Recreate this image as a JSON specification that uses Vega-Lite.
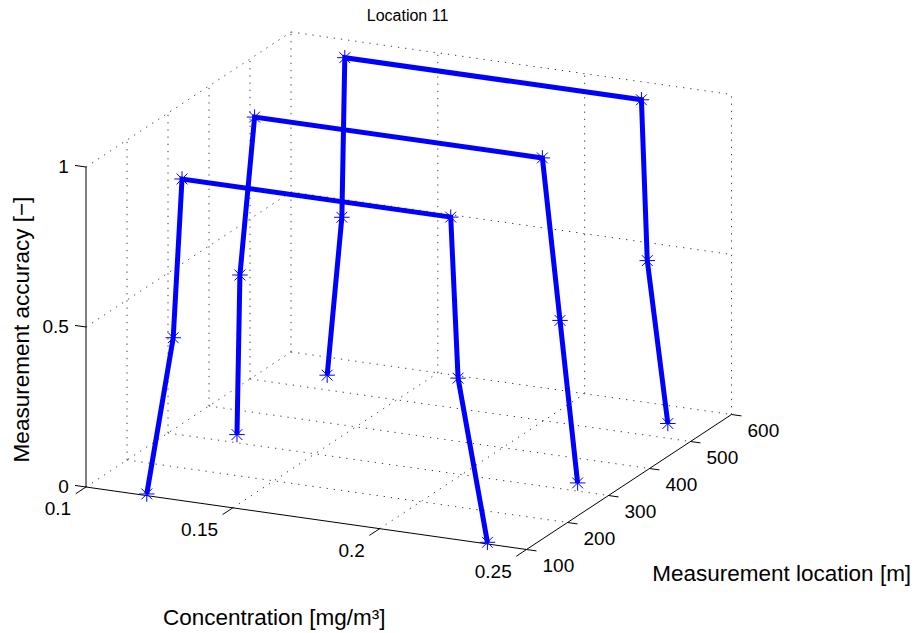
{
  "$schema": "https://vega.github.io/schema/vega-lite/v6.json",
  "width": 915,
  "height": 633,
  "autosize": "none",
  "padding": 0,
  "background": "white",
  "config": {"view": {"stroke": null}, "font": "Liberation Sans"},
  "title": {
    "text": "Location 11",
    "font": "Liberation Sans",
    "fontSize": 16,
    "fontWeight": "normal",
    "color": "black",
    "anchor": "middle",
    "frame": "group",
    "baseline": "bottom",
    "offset": -40,
    "dx": -50
  },
  "datasets": {
    "curves": [
      {"location": 545, "step": 1, "concentration": 0.120, "accuracy": 0},
      {"location": 545, "step": 2, "concentration": 0.125, "accuracy": 0.5},
      {"location": 545, "step": 3, "concentration": 0.126, "accuracy": 1},
      {"location": 545, "step": 4, "concentration": 0.227, "accuracy": 1},
      {"location": 545, "step": 5, "concentration": 0.229, "accuracy": 0.5},
      {"location": 545, "step": 6, "concentration": 0.236, "accuracy": 0},
      {"location": 325, "step": 1, "concentration": 0.120, "accuracy": 0},
      {"location": 325, "step": 2, "concentration": 0.121, "accuracy": 0.5},
      {"location": 325, "step": 3, "concentration": 0.126, "accuracy": 1},
      {"location": 325, "step": 4, "concentration": 0.224, "accuracy": 1},
      {"location": 325, "step": 5, "concentration": 0.230, "accuracy": 0.5},
      {"location": 325, "step": 6, "concentration": 0.236, "accuracy": 0},
      {"location": 105, "step": 1, "concentration": 0.120, "accuracy": 0},
      {"location": 105, "step": 2, "concentration": 0.129, "accuracy": 0.5},
      {"location": 105, "step": 3, "concentration": 0.132, "accuracy": 1},
      {"location": 105, "step": 4, "concentration": 0.2235, "accuracy": 1},
      {"location": 105, "step": 5, "concentration": 0.226, "accuracy": 0.5},
      {"location": 105, "step": 6, "concentration": 0.236, "accuracy": 0}
    ],
    "grid": [
      {"c1": 0.10, "l1": 100, "a1": 0, "c2": 0.10, "l2": 600, "a2": 0},
      {"c1": 0.15, "l1": 100, "a1": 0, "c2": 0.15, "l2": 600, "a2": 0},
      {"c1": 0.20, "l1": 100, "a1": 0, "c2": 0.20, "l2": 600, "a2": 0},
      {"c1": 0.10, "l1": 200, "a1": 0, "c2": 0.25, "l2": 200, "a2": 0},
      {"c1": 0.10, "l1": 300, "a1": 0, "c2": 0.25, "l2": 300, "a2": 0},
      {"c1": 0.10, "l1": 400, "a1": 0, "c2": 0.25, "l2": 400, "a2": 0},
      {"c1": 0.10, "l1": 500, "a1": 0, "c2": 0.25, "l2": 500, "a2": 0},
      {"c1": 0.10, "l1": 600, "a1": 0, "c2": 0.25, "l2": 600, "a2": 0},
      {"c1": 0.10, "l1": 200, "a1": 0, "c2": 0.10, "l2": 200, "a2": 1},
      {"c1": 0.10, "l1": 300, "a1": 0, "c2": 0.10, "l2": 300, "a2": 1},
      {"c1": 0.10, "l1": 400, "a1": 0, "c2": 0.10, "l2": 400, "a2": 1},
      {"c1": 0.10, "l1": 500, "a1": 0, "c2": 0.10, "l2": 500, "a2": 1},
      {"c1": 0.10, "l1": 600, "a1": 0, "c2": 0.10, "l2": 600, "a2": 1},
      {"c1": 0.10, "l1": 100, "a1": 0.5, "c2": 0.10, "l2": 600, "a2": 0.5},
      {"c1": 0.10, "l1": 100, "a1": 1, "c2": 0.10, "l2": 600, "a2": 1},
      {"c1": 0.15, "l1": 600, "a1": 0, "c2": 0.15, "l2": 600, "a2": 1},
      {"c1": 0.20, "l1": 600, "a1": 0, "c2": 0.20, "l2": 600, "a2": 1},
      {"c1": 0.25, "l1": 600, "a1": 0, "c2": 0.25, "l2": 600, "a2": 1},
      {"c1": 0.10, "l1": 600, "a1": 0.5, "c2": 0.25, "l2": 600, "a2": 0.5},
      {"c1": 0.10, "l1": 600, "a1": 1, "c2": 0.25, "l2": 600, "a2": 1}
    ],
    "frame": [
      {"c1": 0.10, "l1": 100, "a1": 0, "c2": 0.25, "l2": 100, "a2": 0},
      {"c1": 0.25, "l1": 100, "a1": 0, "c2": 0.25, "l2": 600, "a2": 0},
      {"c1": 0.10, "l1": 100, "a1": 0, "c2": 0.10, "l2": 100, "a2": 1},
      {"c1": 0.10, "l1": 100, "a1": 0, "c2": 0.10, "l2": 75, "a2": 0},
      {"c1": 0.15, "l1": 100, "a1": 0, "c2": 0.15, "l2": 75, "a2": 0},
      {"c1": 0.20, "l1": 100, "a1": 0, "c2": 0.20, "l2": 75, "a2": 0},
      {"c1": 0.25, "l1": 100, "a1": 0, "c2": 0.25, "l2": 75, "a2": 0},
      {"c1": 0.25, "l1": 100, "a1": 0, "c2": 0.2534, "l2": 100, "a2": 0},
      {"c1": 0.25, "l1": 200, "a1": 0, "c2": 0.2534, "l2": 200, "a2": 0},
      {"c1": 0.25, "l1": 300, "a1": 0, "c2": 0.2534, "l2": 300, "a2": 0},
      {"c1": 0.25, "l1": 400, "a1": 0, "c2": 0.2534, "l2": 400, "a2": 0},
      {"c1": 0.25, "l1": 500, "a1": 0, "c2": 0.2534, "l2": 500, "a2": 0},
      {"c1": 0.25, "l1": 600, "a1": 0, "c2": 0.2534, "l2": 600, "a2": 0},
      {"c1": 0.10, "l1": 100, "a1": 0, "c2": 0.09625, "l2": 100, "a2": 0},
      {"c1": 0.10, "l1": 100, "a1": 0.5, "c2": 0.09625, "l2": 100, "a2": 0.5},
      {"c1": 0.10, "l1": 100, "a1": 1, "c2": 0.09625, "l2": 100, "a2": 1}
    ],
    "ticklabels": [
      {"axis": "x", "label": "0.1", "concentration": 0.10, "location": 100, "accuracy": 0},
      {"axis": "x", "label": "0.15", "concentration": 0.15, "location": 100, "accuracy": 0},
      {"axis": "x", "label": "0.2", "concentration": 0.20, "location": 100, "accuracy": 0},
      {"axis": "x", "label": "0.25", "concentration": 0.25, "location": 100, "accuracy": 0},
      {"axis": "y", "label": "100", "concentration": 0.25, "location": 100, "accuracy": 0},
      {"axis": "y", "label": "200", "concentration": 0.25, "location": 200, "accuracy": 0},
      {"axis": "y", "label": "300", "concentration": 0.25, "location": 300, "accuracy": 0},
      {"axis": "y", "label": "400", "concentration": 0.25, "location": 400, "accuracy": 0},
      {"axis": "y", "label": "500", "concentration": 0.25, "location": 500, "accuracy": 0},
      {"axis": "y", "label": "600", "concentration": 0.25, "location": 600, "accuracy": 0},
      {"axis": "z", "label": "0", "concentration": 0.10, "location": 100, "accuracy": 0},
      {"axis": "z", "label": "0.5", "concentration": 0.10, "location": 100, "accuracy": 0.5},
      {"axis": "z", "label": "1", "concentration": 0.10, "location": 100, "accuracy": 1}
    ],
    "axistitles": [
      {"axis": "x", "text": "Concentration [mg/m³]", "concentration": 0.175, "location": 100, "accuracy": 0},
      {"axis": "y", "text": "Measurement location [m]", "concentration": 0.25, "location": 350, "accuracy": 0},
      {"axis": "z", "text": "Measurement accuracy [−]", "concentration": 0.10, "location": 100, "accuracy": 0.5}
    ]
  },
  "layer": [
    {
      "data": {"name": "grid"},
      "transform": [
        {"calculate": "440.5*(datum.c1-0.1)/0.15 + 205*(datum.l1-100)/500", "as": "px"},
        {"calculate": "-62.5*(datum.c1-0.1)/0.15 + 135*(datum.l1-100)/500 + 320*datum.a1", "as": "py"},
        {"calculate": "440.5*(datum.c2-0.1)/0.15 + 205*(datum.l2-100)/500", "as": "px2"},
        {"calculate": "-62.5*(datum.c2-0.1)/0.15 + 135*(datum.l2-100)/500 + 320*datum.a2", "as": "py2"}
      ],
      "mark": {"type": "rule", "color": "#404040", "strokeWidth": 1, "strokeDash": [1.3, 5.9]},
      "encoding": {
        "x": {"field": "px", "type": "quantitative", "scale": {"domain": [-86, 829], "nice": false, "zero": false}, "axis": null},
        "y": {"field": "py", "type": "quantitative", "scale": {"domain": [-146, 487], "nice": false, "zero": false}, "axis": null},
        "x2": {"field": "px2"},
        "y2": {"field": "py2"}
      }
    },
    {
      "data": {"name": "frame"},
      "transform": [
        {"calculate": "440.5*(datum.c1-0.1)/0.15 + 205*(datum.l1-100)/500", "as": "px"},
        {"calculate": "-62.5*(datum.c1-0.1)/0.15 + 135*(datum.l1-100)/500 + 320*datum.a1", "as": "py"},
        {"calculate": "440.5*(datum.c2-0.1)/0.15 + 205*(datum.l2-100)/500", "as": "px2"},
        {"calculate": "-62.5*(datum.c2-0.1)/0.15 + 135*(datum.l2-100)/500 + 320*datum.a2", "as": "py2"}
      ],
      "mark": {"type": "rule", "color": "black", "strokeWidth": 1},
      "encoding": {
        "x": {"field": "px", "type": "quantitative", "scale": {"domain": [-86, 829], "nice": false, "zero": false}, "axis": null},
        "y": {"field": "py", "type": "quantitative", "scale": {"domain": [-146, 487], "nice": false, "zero": false}, "axis": null},
        "x2": {"field": "px2"},
        "y2": {"field": "py2"}
      }
    },
    {
      "data": {"name": "curves"},
      "transform": [
        {"calculate": "440.5*(datum.concentration-0.1)/0.15 + 205*(datum.location-100)/500", "as": "px"},
        {"calculate": "-62.5*(datum.concentration-0.1)/0.15 + 135*(datum.location-100)/500 + 320*datum.accuracy", "as": "py"}
      ],
      "mark": {"type": "line", "color": "#0000ff", "strokeWidth": 5, "strokeJoin": "miter"},
      "encoding": {
        "x": {"field": "px", "type": "quantitative", "scale": {"domain": [-86, 829], "nice": false, "zero": false}, "axis": null},
        "y": {"field": "py", "type": "quantitative", "scale": {"domain": [-146, 487], "nice": false, "zero": false}, "axis": null},
        "detail": {"field": "location", "type": "nominal"},
        "order": {"field": "step", "type": "quantitative"}
      }
    },
    {
      "data": {"name": "curves"},
      "transform": [
        {"calculate": "440.5*(datum.concentration-0.1)/0.15 + 205*(datum.location-100)/500", "as": "px"},
        {"calculate": "-62.5*(datum.concentration-0.1)/0.15 + 135*(datum.location-100)/500 + 320*datum.accuracy", "as": "py"}
      ],
      "mark": {
        "type": "point",
        "shape": "M0,-1V1M-1,0H1M-0.7,-0.7L0.7,0.7M-0.7,0.7L0.7,-0.7",
        "filled": false,
        "color": "#0000ff",
        "strokeWidth": 1,
        "size": 240,
        "opacity": 1
      },
      "encoding": {
        "x": {"field": "px", "type": "quantitative", "scale": {"domain": [-86, 829], "nice": false, "zero": false}, "axis": null},
        "y": {"field": "py", "type": "quantitative", "scale": {"domain": [-146, 487], "nice": false, "zero": false}, "axis": null}
      }
    },
    {
      "data": {"name": "ticklabels"},
      "transform": [
        {"filter": "datum.axis === 'x'"},
        {"calculate": "440.5*(datum.concentration-0.1)/0.15 + 205*(datum.location-100)/500", "as": "px"},
        {"calculate": "-62.5*(datum.concentration-0.1)/0.15 + 135*(datum.location-100)/500 + 320*datum.accuracy", "as": "py"}
      ],
      "mark": {"type": "text", "font": "Liberation Sans", "fontSize": 19, "color": "black", "align": "right", "baseline": "middle", "dx": -14.8, "dy": 22},
      "encoding": {
        "x": {"field": "px", "type": "quantitative", "scale": {"domain": [-86, 829], "nice": false, "zero": false}, "axis": null},
        "y": {"field": "py", "type": "quantitative", "scale": {"domain": [-146, 487], "nice": false, "zero": false}, "axis": null},
        "text": {"field": "label"}
      }
    },
    {
      "data": {"name": "ticklabels"},
      "transform": [
        {"filter": "datum.axis === 'y'"},
        {"calculate": "440.5*(datum.concentration-0.1)/0.15 + 205*(datum.location-100)/500", "as": "px"},
        {"calculate": "-62.5*(datum.concentration-0.1)/0.15 + 135*(datum.location-100)/500 + 320*datum.accuracy", "as": "py"}
      ],
      "mark": {"type": "text", "font": "Liberation Sans", "fontSize": 19, "color": "black", "align": "left", "baseline": "middle", "dx": 16, "dy": 16.3},
      "encoding": {
        "x": {"field": "px", "type": "quantitative", "scale": {"domain": [-86, 829], "nice": false, "zero": false}, "axis": null},
        "y": {"field": "py", "type": "quantitative", "scale": {"domain": [-146, 487], "nice": false, "zero": false}, "axis": null},
        "text": {"field": "label"}
      }
    },
    {
      "data": {"name": "ticklabels"},
      "transform": [
        {"filter": "datum.axis === 'z'"},
        {"calculate": "440.5*(datum.concentration-0.1)/0.15 + 205*(datum.location-100)/500", "as": "px"},
        {"calculate": "-62.5*(datum.concentration-0.1)/0.15 + 135*(datum.location-100)/500 + 320*datum.accuracy", "as": "py"}
      ],
      "mark": {"type": "text", "font": "Liberation Sans", "fontSize": 19, "color": "black", "align": "right", "baseline": "middle", "dx": -17.1, "dy": 0},
      "encoding": {
        "x": {"field": "px", "type": "quantitative", "scale": {"domain": [-86, 829], "nice": false, "zero": false}, "axis": null},
        "y": {"field": "py", "type": "quantitative", "scale": {"domain": [-146, 487], "nice": false, "zero": false}, "axis": null},
        "text": {"field": "label"}
      }
    },
    {
      "data": {"name": "axistitles"},
      "transform": [
        {"filter": "datum.axis === 'x'"},
        {"calculate": "440.5*(datum.concentration-0.1)/0.15 + 205*(datum.location-100)/500", "as": "px"},
        {"calculate": "-62.5*(datum.concentration-0.1)/0.15 + 135*(datum.location-100)/500 + 320*datum.accuracy", "as": "py"}
      ],
      "mark": {"type": "text", "font": "Liberation Sans", "fontSize": 22.5, "color": "black", "align": "center", "baseline": "middle", "dx": -32, "dy": 100},
      "encoding": {
        "x": {"field": "px", "type": "quantitative", "scale": {"domain": [-86, 829], "nice": false, "zero": false}, "axis": null},
        "y": {"field": "py", "type": "quantitative", "scale": {"domain": [-146, 487], "nice": false, "zero": false}, "axis": null},
        "text": {"field": "text"}
      }
    },
    {
      "data": {"name": "axistitles"},
      "transform": [
        {"filter": "datum.axis === 'y'"},
        {"calculate": "440.5*(datum.concentration-0.1)/0.15 + 205*(datum.location-100)/500", "as": "px"},
        {"calculate": "-62.5*(datum.concentration-0.1)/0.15 + 135*(datum.location-100)/500 + 320*datum.accuracy", "as": "py"}
      ],
      "mark": {"type": "text", "font": "Liberation Sans", "fontSize": 22.5, "color": "black", "align": "center", "baseline": "middle", "dx": 152.7, "dy": 92},
      "encoding": {
        "x": {"field": "px", "type": "quantitative", "scale": {"domain": [-86, 829], "nice": false, "zero": false}, "axis": null},
        "y": {"field": "py", "type": "quantitative", "scale": {"domain": [-146, 487], "nice": false, "zero": false}, "axis": null},
        "text": {"field": "text"}
      }
    },
    {
      "data": {"name": "axistitles"},
      "transform": [
        {"filter": "datum.axis === 'z'"},
        {"calculate": "440.5*(datum.concentration-0.1)/0.15 + 205*(datum.location-100)/500", "as": "px"},
        {"calculate": "-62.5*(datum.concentration-0.1)/0.15 + 135*(datum.location-100)/500 + 320*datum.accuracy", "as": "py"}
      ],
      "mark": {"type": "text", "font": "Liberation Sans", "fontSize": 22.5, "color": "black", "align": "center", "baseline": "middle", "angle": 270, "dx": -2.5, "dy": -64.1},
      "encoding": {
        "x": {"field": "px", "type": "quantitative", "scale": {"domain": [-86, 829], "nice": false, "zero": false}, "axis": null},
        "y": {"field": "py", "type": "quantitative", "scale": {"domain": [-146, 487], "nice": false, "zero": false}, "axis": null},
        "text": {"field": "text"}
      }
    }
  ]
}
